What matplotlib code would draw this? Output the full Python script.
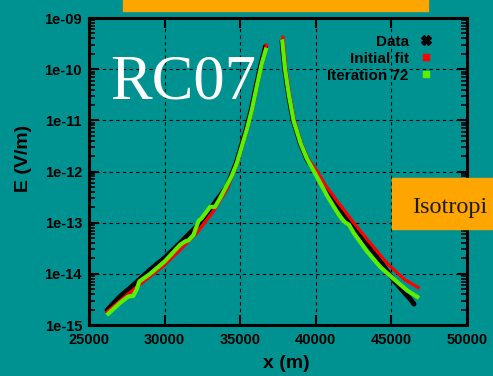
import matplotlib.pyplot as plt
from matplotlib.lines import Line2D
from matplotlib.patches import Rectangle
from matplotlib.ticker import FixedLocator, FuncFormatter, LogLocator, NullFormatter

# ---- data (x in m, E in V/m) ----
data_left_x = [26200, 27050, 27930, 29040, 30000, 31030, 32130, 33230, 34120, 34740, 35070,
               35400, 35730, 36060, 36390, 36680]
data_left_e = [1.95e-15, 3.6e-15, 6.0e-15, 1.2e-14, 2.04e-14, 4.0e-14, 8.5e-14, 2.24e-13, 5.1e-13,
               1.45e-12, 3.1e-12, 6.6e-12, 1.58e-11, 4.6e-11, 1.29e-10, 2.75e-10]
data_right_x = [37770, 37950, 38220, 38510, 38980, 39400, 40110, 40990, 42090, 42970, 44070,
                45170, 45840, 46280, 46500]
data_right_e = [3.55e-10, 1.0e-10, 2.95e-11, 1.0e-11, 3.55e-12, 1.78e-12, 8.5e-13, 3.3e-13, 1.23e-13,
                5.75e-14, 2.14e-14, 7.4e-15, 4.4e-15, 3.16e-15, 2.57e-15]

init_left_x = [26200, 27930, 30000, 31030, 32130, 33230, 34120, 34800, 35130, 35460, 35790,
               36120, 36450, 36740]
init_left_e = [1.8e-15, 4.9e-15, 1.5e-14, 2.95e-14, 6.3e-14, 1.66e-13, 4.5e-13, 1.4e-12, 3.0e-12,
               6.4e-12, 1.55e-11, 4.5e-11, 1.27e-10, 2.95e-10]
init_right_x = [37830, 38020, 38290, 38580, 39050, 39470, 40110, 40550, 41430, 42530, 43630,
                44740, 45840, 46770]
init_right_e = [4.2e-10, 1.0e-10, 2.95e-11, 1.0e-11, 3.5e-12, 1.8e-12, 1.0e-12, 5.9e-13, 2.6e-13,
                9.8e-14, 3.9e-14, 1.58e-14, 7.9e-15, 5.4e-15]

iter_left_x = [26280, 27050, 27600, 27930, 28150, 28330, 29040, 30000, 31030, 31360, 31580,
               31910, 32240, 32460, 32790, 33010, 33340, 33670, 34450, 34780, 35110, 35440,
               35770, 36100, 36430, 36700]
iter_left_e = [1.66e-15, 2.7e-15, 3.6e-15, 3.7e-15, 4.9e-15, 7.1e-15, 1.0e-14, 1.74e-14, 3.7e-14,
               4.3e-14, 4.5e-14, 5.75e-14, 1.07e-13, 1.23e-13, 1.66e-13, 2.04e-13, 2.04e-13,
               3.0e-13, 8.3e-13, 1.45e-12, 3.1e-12, 6.6e-12, 1.58e-11, 4.6e-11, 1.29e-10, 2.4e-10]
iter_right_x = [37790, 37970, 38240, 38530, 39000, 39420, 40110, 40770, 41540, 41870, 42200,
                42530, 43410, 44290, 45170, 46060, 46720]
iter_right_e = [3.5e-10, 1.0e-10, 2.95e-11, 1.0e-11, 3.55e-12, 1.78e-12, 7.6e-13, 3.3e-13, 1.41e-13,
                1.05e-13, 9.1e-14, 6.2e-14, 2.7e-14, 1.35e-14, 7.9e-15, 4.7e-15, 3.55e-15]

x_ticks = [25000, 30000, 35000, 40000, 45000, 50000]
y_ticks = [1e-15, 1e-14, 1e-13, 1e-12, 1e-11, 1e-10, 1e-9]

teal = "#009191"
orange = "#FFA500"
green = "#5CF000"

fig = plt.figure(figsize=(4.93, 3.76), dpi=100)
fig.patch.set_facecolor(teal)
ax = fig.add_axes([0.1805, 0.1356, 0.7665, 0.8165])
ax.set_facecolor(teal)

ax.plot(data_left_x, data_left_e, color="black", lw=3.6, solid_capstyle="round", zorder=3)
ax.plot(data_right_x, data_right_e, color="black", lw=3.6, solid_capstyle="round", zorder=3)
ax.plot(init_left_x, init_left_e, color="red", lw=2.3, zorder=4)
ax.plot(init_right_x, init_right_e, color="red", lw=2.3, zorder=4)
ax.plot(iter_left_x, iter_left_e, color=green, lw=3, zorder=5)
ax.plot(iter_right_x, iter_right_e, color=green, lw=3, zorder=5)

ax.set_yscale("log")
ax.set_xlim(25000, 50000)
ax.set_ylim(1e-15, 1e-9)
ax.xaxis.set_major_locator(FixedLocator(x_ticks))
ax.yaxis.set_major_locator(FixedLocator(y_ticks))
ax.yaxis.set_minor_locator(LogLocator(base=10, subs=range(2, 10)))
ax.yaxis.set_minor_formatter(NullFormatter())
ax.yaxis.set_major_formatter(FuncFormatter(lambda v, _: f"{v:.0e}"))
ax.xaxis.set_major_formatter(FuncFormatter(lambda v, _: f"{int(v)}"))

ax.grid(True, which="major", color="black", linestyle=(0, (3, 3)), linewidth=0.8)
ax.tick_params(which="major", direction="in", length=7, width=1.5, top=True, right=True,
               labelsize=10.5)
ax.tick_params(axis="x", which="major", pad=6)
ax.tick_params(axis="y", which="major", pad=5)
ax.tick_params(which="minor", direction="in", length=4, width=1.2, left=True, right=True)
for lab in ax.get_xticklabels() + ax.get_yticklabels():
    lab.set_fontweight("bold")
    lab.set_family("Liberation Sans")
for s in ax.spines.values():
    s.set_linewidth(2.2)

ax.set_xlabel("x (m)", fontsize=14, fontweight="bold", family="Liberation Sans", va="center")
ax.set_ylabel("E (V/m)", fontsize=14, fontweight="bold", family="Liberation Sans", va="center")
ax.xaxis.set_label_coords(0.521, -0.124)
ax.yaxis.set_label_coords(-0.172, 0.544)

handles = [
    Line2D([], [], ls="none", marker="X", color="black", markersize=7),
    Line2D([], [], ls="none", marker="s", color="red", markersize=5),
    Line2D([], [], ls="none", marker="s", color=green, markersize=5),
]
ax.legend(handles, ["Data", "Initial fit", "Iteration 72"], loc="upper right",
          bbox_to_anchor=(0.911, 0.946), markerfirst=False, frameon=False,
          borderpad=0, borderaxespad=0, handlelength=1, handletextpad=0.6,
          labelspacing=0.2, prop={"family": "Liberation Sans", "weight": "bold", "size": 11})

fig.text(0.223, 0.737, "RC07", color="white", fontsize=45, family="Liberation Serif", va="baseline")

# orange overlays from the slide
fig.patches.append(Rectangle((123 / 493, 1 - 11 / 376), 305 / 493, 11 / 376,
                             transform=fig.transFigure, color=orange, zorder=10))
fig.patches.append(Rectangle((392 / 493, 147 / 376), 110 / 493, 51 / 376,
                             transform=fig.transFigure, color=orange, zorder=10))
fig.text(412 / 493, 163 / 376, "Isotropi", fontsize=17.5, family="Liberation Serif",
         color="#1a1a1a", va="baseline", zorder=11)

fig.savefig("out.png", dpi=100, facecolor=teal)
